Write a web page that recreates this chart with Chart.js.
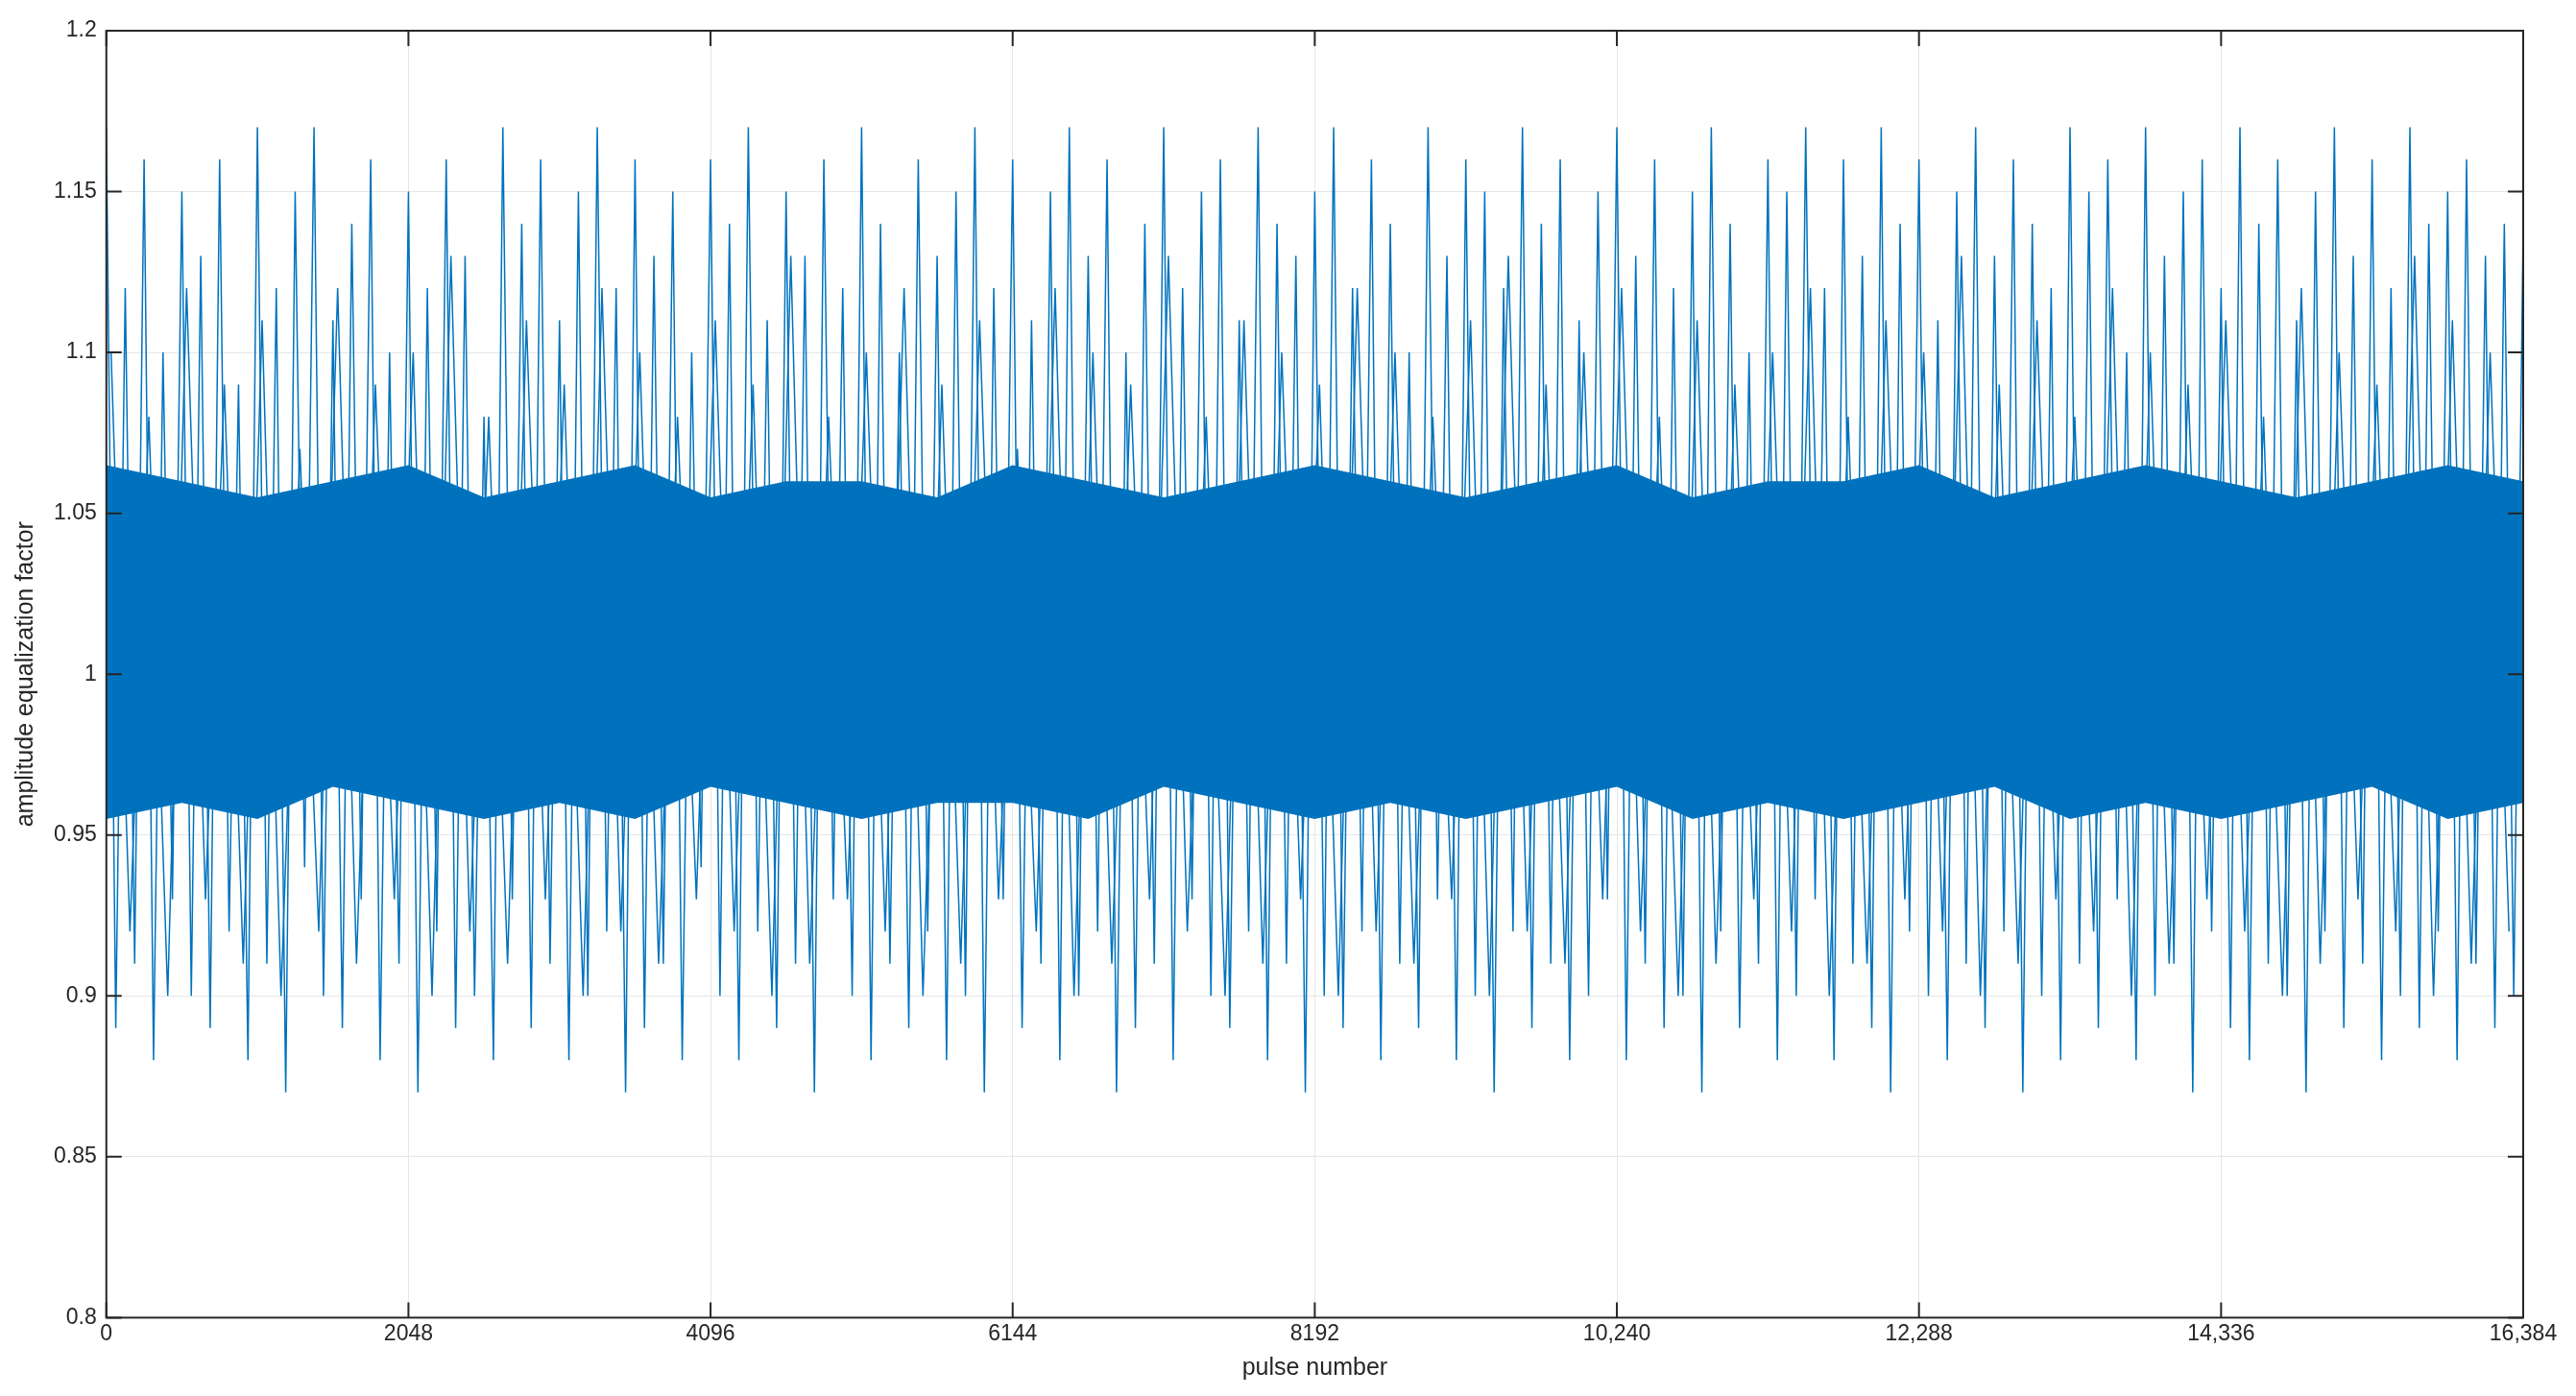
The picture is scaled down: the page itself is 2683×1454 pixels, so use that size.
<!DOCTYPE html><html><head><meta charset="utf-8">
<script src="https://cdn.jsdelivr.net/npm/chart.js@4/dist/chart.umd.min.js"></script>
<style>html,body{margin:0;background:#fff}#w{position:absolute;left:0;top:0;width:2683px;height:1454px}</style></head><body>
<div id="w"><canvas id="c"></canvas></div>
<script>
const xTicks=[0,2048,4096,6144,8192,10240,12288,14336,16384];
const yTicks=[0.8,0.85,0.9,0.95,1,1.05,1.1,1.15,1.2];
const spikeStep=64;
const spikeValues=[
1.17,0.89,1.12,0.91,1.16,0.88,1.10,0.93,1.15,0.90,1.13,0.89,1.16,0.92,1.09,0.88,1.17,0.91,1.12,0.87,1.15,0.94,1.17,0.90,1.11,0.89,1.14,0.93,1.16,0.88,1.10,0.91,
1.15,0.87,1.12,0.92,1.16,0.89,1.13,0.90,1.08,0.88,1.17,0.93,1.14,0.89,1.16,0.91,1.11,0.88,1.15,0.90,1.17,0.92,1.12,0.87,1.16,0.89,1.13,0.91,1.15,0.88,1.10,0.94,
1.16,0.90,1.14,0.88,1.17,0.92,1.11,0.89,1.15,0.91,1.13,0.87,1.16,0.93,1.12,0.90,1.17,0.88,1.14,0.91,1.10,0.89,1.16,0.92,1.13,0.88,1.15,0.90,1.17,0.87,1.12,0.93,
1.16,0.89,1.11,0.91,1.15,0.88,1.17,0.90,1.13,0.92,1.16,0.87,1.10,0.89,1.14,0.91,1.17,0.88,1.12,0.93,1.15,0.90,1.16,0.89,1.11,0.92,1.17,0.88,1.14,0.91,1.13,0.87,
1.15,0.90,1.17,0.89,1.12,0.92,1.16,0.88,1.14,0.91,1.10,0.89,1.17,0.93,1.13,0.88,1.16,0.90,1.15,0.87,1.12,0.92,1.17,0.89,1.14,0.91,1.16,0.88,1.11,0.90,1.15,0.93,
1.17,0.88,1.13,0.91,1.16,0.89,1.12,0.90,1.15,0.87,1.17,0.92,1.14,0.89,1.10,0.91,1.16,0.88,1.15,0.90,1.17,0.93,1.12,0.88,1.16,0.91,1.13,0.89,1.17,0.87,1.14,0.92,
1.16,0.90,1.11,0.88,1.15,0.91,1.17,0.89,1.13,0.92,1.16,0.87,1.14,0.90,1.12,0.88,1.17,0.91,1.15,0.89,1.16,0.93,1.10,0.88,1.17,0.90,1.13,0.91,1.15,0.87,1.16,0.92,
1.12,0.89,1.17,0.88,1.14,0.91,1.16,0.90,1.11,0.87,1.15,0.92,1.17,0.89,1.13,0.91,1.16,0.88,1.12,0.90,1.17,0.89,1.14,0.92,1.15,0.88,1.16,0.91,1.13,0.89,1.14,0.90
];
const midStep=128, midOffset=32;
const midValues=[
1.10,0.92,1.08,0.90,1.12,0.93,1.09,0.91,1.11,0.90,1.07,0.92,1.12,0.91,1.09,0.93,1.10,0.90,1.13,0.92,1.08,0.91,1.11,0.93,1.09,0.90,1.12,0.92,1.10,0.91,1.08,0.93,
1.11,0.92,1.09,0.90,1.13,0.91,1.08,0.93,1.10,0.92,1.12,0.90,1.09,0.91,1.11,0.93,1.07,0.92,1.12,0.90,1.10,0.91,1.09,0.93,1.13,0.92,1.08,0.90,1.11,0.91,1.10,0.93,
1.09,0.90,1.12,0.92,1.10,0.91,1.08,0.93,1.11,0.90,1.13,0.92,1.09,0.91,1.10,0.93,1.12,0.92,1.08,0.90,1.11,0.91,1.09,0.93,1.10,0.92,1.12,0.90,1.08,0.91,1.11,0.93,
1.10,0.92,1.13,0.90,1.09,0.91,1.11,0.93,1.08,0.92,1.12,0.90,1.10,0.91,1.09,0.93,1.11,0.92,1.08,0.90,1.12,0.91,1.10,0.93,1.09,0.92,1.13,0.90,1.11,0.91,1.10,0.92
];
const coreStep=512;
const coreHigh=[1.065,1.06,1.055,1.06,1.065,1.055,1.06,1.065,1.055,1.06,1.06,1.055,1.065,1.06,1.055,1.06,1.065,1.06,1.055,1.06,1.065,1.055,1.06,1.06,1.065,1.055,1.06,1.065,1.06,1.055,1.06,1.065,1.06];
const coreLow=[0.955,0.96,0.955,0.965,0.96,0.955,0.96,0.955,0.965,0.96,0.955,0.96,0.96,0.955,0.965,0.96,0.955,0.96,0.955,0.96,0.965,0.955,0.96,0.955,0.96,0.965,0.955,0.96,0.955,0.96,0.965,0.955,0.96];
const C='#0072BD';
const spikes=spikeValues.map((v,i)=>({x:i*spikeStep,y:v}));
spikes.push({x:16384,y:1.14});
const mids=midValues.map((v,i)=>({x:i*midStep+midOffset,y:v}));
const hi=coreHigh.map((v,i)=>({x:i*coreStep,y:v}));
const lo=coreLow.map((v,i)=>({x:i*coreStep,y:v}));
const frame={id:'frame',afterDraw(ch){const a=ch.chartArea,g=ch.ctx;g.save();g.strokeStyle='#262626';g.lineWidth=2;g.strokeRect(a.left,a.top,a.right-a.left,a.bottom-a.top);
const L=16;g.beginPath();xTicks.forEach(t=>{const x=ch.scales.x.getPixelForValue(t);g.moveTo(x,a.bottom);g.lineTo(x,a.bottom-L);g.moveTo(x,a.top);g.lineTo(x,a.top+L);});
yTicks.forEach(t=>{const y=ch.scales.y.getPixelForValue(t);g.moveTo(a.left,y);g.lineTo(a.left+L,y);g.moveTo(a.right,y);g.lineTo(a.right-L,y);});g.stroke();g.restore();}};
const font={family:'Liberation Sans, Arial',size:23};
new Chart(document.getElementById('c'),{type:'line',
data:{datasets:[
{data:hi,borderWidth:0,pointRadius:0,fill:false,borderColor:C},
{data:lo,borderWidth:0,pointRadius:0,fill:'-1',backgroundColor:C,borderColor:C},
{data:mids,borderColor:C,borderWidth:1.5,pointRadius:0,fill:false},
{data:spikes,borderColor:C,borderWidth:1.5,pointRadius:0,fill:false}
]},
options:{responsive:true,maintainAspectRatio:false,animation:false,
layout:{padding:{left:8,right:55,top:32,bottom:10}},
plugins:{legend:{display:false},tooltip:{enabled:false}},
scales:{
x:{type:'linear',min:0,max:16384,afterBuildTicks:s=>{s.ticks=xTicks.map(v=>({value:v}));},
ticks:{color:'#262626',font,maxRotation:0,callback:v=>v>=10000?v.toLocaleString('en-US'):String(v)},
grid:{color:'#e6e6e6',drawTicks:false},border:{display:false},
title:{display:true,text:'pulse number',color:'#262626',font:{family:'Liberation Sans, Arial',size:25}}},
y:{min:0.8,max:1.2,afterBuildTicks:s=>{s.ticks=yTicks.map(v=>({value:v}));},
ticks:{color:'#262626',font,padding:10,callback:v=>String(+v.toFixed(2))},
grid:{color:'#e6e6e6',drawTicks:false},border:{display:false},
title:{display:true,text:'amplitude equalization factor',color:'#262626',font:{family:'Liberation Sans, Arial',size:25}}}
}},plugins:[frame]});
</script></body></html>
